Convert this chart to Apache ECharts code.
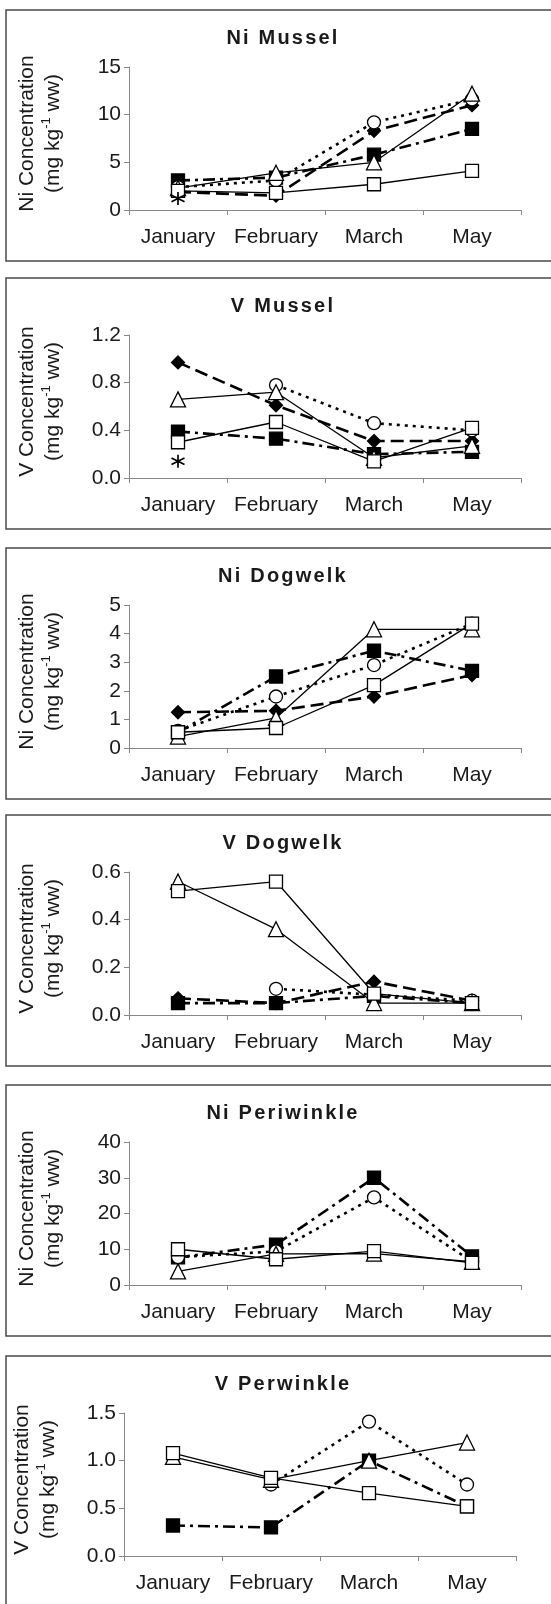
<!DOCTYPE html>
<html><head><meta charset="utf-8">
<script src="https://cdn.jsdelivr.net/npm/echarts@6/dist/echarts.min.js"></script>
<style>html,body{margin:0;padding:0;background:#fff}#c{width:551px;height:1604px}</style>
</head><body><div id="c"></div>
<script>
// ---------- DATA ----------
const months = ['January', 'February', 'March', 'May'];
const panelTitles = ['Ni Mussel', 'V Mussel', 'Ni Dogwelk', 'V Dogwelk', 'Ni Periwinkle', 'V Perwinkle'];
const yNameNi = 'Ni Concentration';
const yNameV = 'V Concentration';
const yUnitPre = '(mg kg';
const yUnitSup = '-1';
const yUnitPost = ' ww)';

const ticksNiMussel = [0, 5, 10, 15];
const ticksVMussel = [0, 0.4, 0.8, 1.2];
const ticksNiDogwelk = [0, 1, 2, 3, 4, 5];
const ticksVDogwelk = [0, 0.2, 0.4, 0.6];
const ticksNiPeriwinkle = [0, 10, 20, 30, 40];
const ticksVPerwinkle = [0, 0.5, 1.0, 1.5];

// Ni Mussel
const niMusselOpenSquare   = [2.0, 1.8, 2.7, 4.1];
const niMusselTriangle     = [2.3, 3.9, 5.0, 12.2];
const niMusselCircle       = [2.4, 3.1, 9.2, 11.6];
const niMusselDiamond      = [1.9, 1.5, 8.3, 11.0];
const niMusselFilledSquare = [3.1, 3.4, 5.8, 8.5];
const niMusselAsterisk     = [1.2, null, null, null];

// V Mussel
const vMusselOpenSquare   = [0.30, 0.47, 0.14, 0.42];
const vMusselTriangle     = [0.66, 0.72, 0.17, 0.27];
const vMusselCircle       = [null, 0.78, 0.46, 0.40];
const vMusselDiamond      = [0.97, 0.61, 0.31, 0.31];
const vMusselFilledSquare = [0.39, 0.33, 0.20, 0.22];
const vMusselAsterisk     = [0.14, null, null, null];

// Ni Dogwelk
const niDogwelkOpenSquare   = [0.55, 0.70, 2.2, 4.35];
const niDogwelkTriangle     = [0.40, 1.05, 4.15, 4.15];
const niDogwelkCircle       = [0.60, 1.8, 2.9, 4.35];
const niDogwelkDiamond      = [1.25, 1.3, 1.8, 2.55];
const niDogwelkFilledSquare = [0.55, 2.5, 3.4, 2.7];

// V Dogwelk
const vDogwelkOpenSquare   = [0.52, 0.56, 0.09, 0.05];
const vDogwelkTriangle     = [0.56, 0.36, 0.05, 0.05];
const vDogwelkCircle       = [null, 0.11, 0.085, 0.06];
const vDogwelkDiamond      = [0.07, 0.05, 0.14, 0.06];
const vDogwelkFilledSquare = [0.05, 0.05, 0.08, 0.05];

// Ni Periwinkle
const niPeriwinkleOpenSquare   = [10.0, 7.2, 9.5, 6.2];
const niPeriwinkleTriangle     = [3.8, 8.7, 8.8, 6.5];
const niPeriwinkleCircle       = [7.8, 9.4, 24.5, 6.6];
const niPeriwinkleFilledSquare = [7.7, 11.3, 30.0, 8.0];

// V Perwinkle
const vPerwinkleOpenSquare   = [1.08, 0.82, 0.66, 0.52];
const vPerwinkleTriangle     = [1.04, 0.80, 1.00, 1.19];
const vPerwinkleCircle       = [null, 0.75, 1.41, 0.75];
const vPerwinkleFilledSquare = [0.32, 0.30, 1.00, 0.52];

// ---------- ASSEMBLY ----------
const panels = [
  { ticks: ticksNiMussel, dec: 0, yName: yNameNi, series: { filledSquare: niMusselFilledSquare, diamond: niMusselDiamond, circle: niMusselCircle, triangle: niMusselTriangle, openSquare: niMusselOpenSquare, asterisk: niMusselAsterisk } },
  { ticks: ticksVMussel, dec: 1, yName: yNameV, series: { filledSquare: vMusselFilledSquare, diamond: vMusselDiamond, circle: vMusselCircle, triangle: vMusselTriangle, openSquare: vMusselOpenSquare, asterisk: vMusselAsterisk } },
  { ticks: ticksNiDogwelk, dec: 0, yName: yNameNi, series: { filledSquare: niDogwelkFilledSquare, diamond: niDogwelkDiamond, circle: niDogwelkCircle, triangle: niDogwelkTriangle, openSquare: niDogwelkOpenSquare } },
  { ticks: ticksVDogwelk, dec: 1, yName: yNameV, series: { filledSquare: vDogwelkFilledSquare, diamond: vDogwelkDiamond, circle: vDogwelkCircle, triangle: vDogwelkTriangle, openSquare: vDogwelkOpenSquare } },
  { ticks: ticksNiPeriwinkle, dec: 0, yName: yNameNi, series: { filledSquare: niPeriwinkleFilledSquare, circle: niPeriwinkleCircle, triangle: niPeriwinkleTriangle, openSquare: niPeriwinkleOpenSquare } },
  { ticks: ticksVPerwinkle, dec: 1, yName: yNameV, series: { filledSquare: vPerwinkleFilledSquare, circle: vPerwinkleCircle, triangle: vPerwinkleTriangle, openSquare: vPerwinkleOpenSquare } }
];

// ---------- STYLE / LAYOUT ----------
// titles in the original are letter-spaced bold text
(function () {
  const P = CanvasRenderingContext2D.prototype;
  const orig = P.fillText;
  P.fillText = function (text, x, y, maxW) {
    const call = () => (maxW === undefined ? orig.call(this, text, x, y) : orig.call(this, text, x, y, maxW));
    if (/bold/.test(this.font) && 'letterSpacing' in this) {
      const prev = this.letterSpacing;
      this.letterSpacing = '2.2px';
      const r = call();
      this.letterSpacing = prev;
      return r;
    }
    return call();
  };
})();

const FONT = "'Liberation Sans', Arial, sans-serif";
const TEXT = '#1a1a1a';
const AXIS = '#888';
const panelTops = [10, 278, 548, 815, 1085, 1356];
const panelH = 251;
const plotTopOff = 57, plotH = 143;
const gridLeft = [129, 129, 129, 129, 129, 124];
const gridW = 392;
const titleX = 283;

const markStyle = {
  filledSquare: { symbol: 'rect', size: 13, fill: '#000', line: { type: [12, 5, 3, 5], width: 2.6 } },
  diamond:      { symbol: 'diamond', size: 13, fill: '#000', line: { type: [13, 6], width: 2.6 } },
  circle:       { symbol: 'circle', size: 13, fill: '#fff', line: { type: [3, 5], width: 2.6 } },
  triangle:     { symbol: 'triangle', size: 15, fill: '#fff', line: { type: 'solid', width: 1.3 } },
  openSquare:   { symbol: 'rect', size: 13, fill: '#fff', line: { type: 'solid', width: 1.3 } },
  asterisk:     { symbol: 'path://M5,0L5,10M0.7,2.5L9.3,7.5M0.7,7.5L9.3,2.5', size: 13, fill: 'none', line: null }
};

const grid = [], xAxis = [], yAxis = [], series = [], title = [], graphic = [];
panels.forEach((p, i) => {
  const top = panelTops[i];
  grid.push({ left: gridLeft[i], width: gridW, top: top + plotTopOff, height: plotH });
  title.push({
    text: panelTitles[i], left: titleX, textAlign: 'center', top: top + 18, padding: 0,
    textStyle: { fontFamily: FONT, fontSize: 20, fontWeight: 'bold', color: TEXT }
  });
  xAxis.push({
    type: 'category', gridIndex: i, data: months, boundaryGap: true,
    axisLine: { lineStyle: { color: AXIS, width: 1 } },
    axisTick: { show: true, length: 5, lineStyle: { color: AXIS } },
    axisLabel: { fontFamily: FONT, fontSize: 21, color: TEXT, margin: 17, interval: 0 },
    splitLine: { show: false }
  });
  const t = p.ticks;
  yAxis.push({
    type: 'value', gridIndex: i, min: t[0], max: t[t.length - 1], interval: t[1] - t[0],
    axisLine: { show: true, lineStyle: { color: AXIS, width: 1 } },
    axisTick: { show: true, length: 5, lineStyle: { color: AXIS } },
    axisLabel: { fontFamily: FONT, fontSize: 21, color: TEXT, margin: 8, formatter: v => v.toFixed(p.dec) },
    splitLine: { show: false },
    name: '{a|' + p.yName + '}\n{a|' + yUnitPre + '}{s|' + yUnitSup + '}{a|' + yUnitPost + '}',
    nameLocation: 'middle', nameRotate: 90, nameGap: 63,
    nameTextStyle: {
      fontFamily: FONT, color: TEXT, fontSize: 21, lineHeight: 26, padding: [0, 0, 0, 10],
      rich: {
        a: { fontFamily: FONT, color: TEXT, fontSize: 21, lineHeight: 26 },
        s: { fontFamily: FONT, color: TEXT, fontSize: 13, lineHeight: 17, verticalAlign: 'top' }
      }
    }
  });
  Object.keys(p.series).forEach(k => {
    const st = markStyle[k];
    const data = p.series[k];
    if (st.line) {
      series.push({
        type: 'line', xAxisIndex: i, yAxisIndex: i, data: data, symbol: 'none', showSymbol: false,
        connectNulls: false, silent: true, z: 2,
        lineStyle: { color: '#000', width: st.line.width, type: st.line.type }
      });
    }
    series.push({
      type: 'scatter', xAxisIndex: i, yAxisIndex: i, data: data, symbol: st.symbol, symbolSize: st.size,
      silent: true, z: 3,
      itemStyle: { color: st.fill === 'none' ? 'rgba(0,0,0,0)' : st.fill, borderColor: '#000', borderWidth: k === 'asterisk' ? 1.7 : 1.3, opacity: 1 }
    });
  });
  graphic.push({
    type: 'rect', silent: true, z: 0,
    shape: { x: 6, y: top, width: 600, height: i === 5 ? 400 : panelH },
    style: { fill: 'none', stroke: '#4a4a4a', lineWidth: 1.5 }
  });
});

const chart = echarts.init(document.getElementById('c'), null, { renderer: 'canvas' });
chart.setOption({
  animation: false, backgroundColor: '#fff',
  title, grid, xAxis, yAxis, series, graphic
});
</script></body></html>
